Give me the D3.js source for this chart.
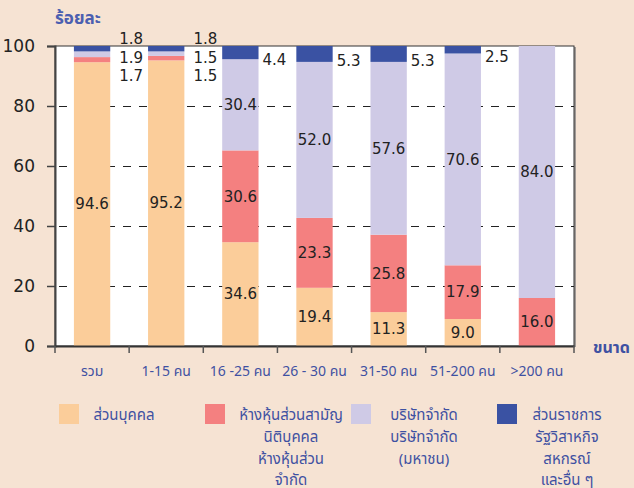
<!DOCTYPE html>
<html>
<head>
<meta charset="utf-8">
<script src="https://cdn.jsdelivr.net/npm/d3@7"></script>
<style>
body { margin:0; background:#f6e3d3; }
svg { display:block; }
</style>
</head>
<body>
<div id="chart"></div>
<script>
// categories (size of business) and the four shares, percent
var categories = ['รวม', '1-15 คน', '16 -25 คน', '26 - 30 คน', '31-50 คน', '51-200 คน', '>200 คน'];
var personal    = [94.6, 95.2, 34.6, 19.4, 11.3,  9.0,  0.0];
var partnership = [ 1.7,  1.5, 30.6, 23.3, 25.8, 17.9, 16.0];
var company     = [ 1.9,  1.5, 30.4, 52.0, 57.6, 70.6, 84.0];
var government  = [ 1.8,  1.8,  4.4,  5.3,  5.3,  2.5,  0.0];
var yTicks = [0, 20, 40, 60, 80, 100];

var legendLabels = [
	['ส่วนบุคคล'],
	['ห้างหุ้นส่วนสามัญ', 'นิติบุคคล', 'ห้างหุ้นส่วน', 'จำกัด'],
	['บริษัทจำกัด', 'บริษัทจำกัด', '(มหาชน)'],
	['ส่วนราชการ', 'รัฐวิสาหกิจ', 'สหกรณ์', 'และอื่น ๆ']
];
var colors = ['#fbcd9a', '#f48080', '#cfcae6', '#3a52a3'];

var W = 634, H = 488;
var pLeft = 55, pRight = 574, pTop = 46, pBottom = 346;
var numFont = '"DejaVu Sans", Verdana, sans-serif';
var thaiFont = 'Tahoma, "Noto Sans Thai", "Noto Sans", sans-serif';
var blue = '#3f51a2';

var svg = d3.select('#chart').append('svg')
	.attr('width', W).attr('height', H);

svg.append('rect').attr('width', W).attr('height', H).attr('fill', '#f6e3d3');

var x = d3.scaleBand().domain(categories).range([pLeft, pRight])
	.paddingInner(0.51).paddingOuter(0.255);
var xCell = d3.scaleBand().domain(categories).range([pLeft, pRight]);
var y = d3.scaleLinear().domain([0, 100]).range([pBottom, pTop]);

// plot background + frame shadow
svg.append('rect').attr('x', pLeft + 2).attr('y', pTop + 1)
	.attr('width', pRight - pLeft).attr('height', pBottom - pTop)
	.attr('fill', '#a09a96');
svg.append('rect').attr('x', pLeft).attr('y', pTop)
	.attr('width', pRight - pLeft).attr('height', pBottom - pTop)
	.attr('fill', '#fff').attr('stroke', '#333').attr('stroke-width', 1);

// dashed grid
svg.append('g').selectAll('line')
	.data(yTicks.filter(function(d) { return d > 0 && d < 100; }))
	.enter().append('line')
		.attr('x1', pLeft + 4).attr('x2', pRight)
		.attr('y1', function(d) { return Math.round(y(d)) + 0.5; })
		.attr('y2', function(d) { return Math.round(y(d)) + 0.5; })
		.attr('stroke', '#222').attr('stroke-dasharray', '8,8');

// stacked bars
var table = categories.map(function(c, i) {
	return {cat: c, p: personal[i], h: partnership[i], c: company[i], g: government[i]};
});
var keys = ['p', 'h', 'c', 'g'];
var stacked = d3.stack().keys(keys)(table);

var layers = svg.append('g').selectAll('g')
	.data(stacked)
	.enter().append('g')
		.attr('fill', function(d, i) { return colors[i]; });

layers.selectAll('rect')
	.data(function(d) { return d; })
	.enter().append('rect')
		.attr('x', function(d) { return x(d.data.cat); })
		.attr('width', x.bandwidth())
		.attr('y', function(d) { return y(d[1]); })
		.attr('height', function(d) { return y(d[0]) - y(d[1]); });

// value labels
var labels = svg.append('g')
	.attr('font-family', numFont).attr('font-size', 15).attr('fill', '#222');

stacked.forEach(function(layer, k) {
	layer.forEach(function(d, i) {
		var v = d[1] - d[0];
		if(v <= 0) return;
		var xr = x(d.data.cat) + x.bandwidth();
		if(v >= 8) {
			labels.append('text')
				.attr('x', x(d.data.cat) + x.bandwidth()/2)
				.attr('y', (y(d[0]) + y(d[1]))/2)
				.attr('dy', '0.35em')
				.attr('text-anchor', 'middle')
				.text(d3.format('.1f')(v));
		} else if(i < 2) {
			// tiny slices of first two bars: stacked beside the bar
			labels.append('text')
				.attr('x', xr + 9)
				.attr('y', pTop - 7 + (3 - k)*18.5)
				.attr('dy', '0.35em')
				.text(d3.format('.1f')(v));
		} else {
			labels.append('text')
				.attr('x', xr + 4)
				.attr('y', (y(d[0]) + y(d[1]))/2 + 7)
				.attr('dy', '0.35em')
				.text(d3.format('.1f')(v));
		}
	});
});

// y axis
var yAxis = svg.append('g')
	.attr('transform', 'translate(' + pLeft + ',0)')
	.call(d3.axisLeft(y).tickValues(yTicks).tickSize(8).tickPadding(12));
yAxis.select('.domain').attr('stroke', '#444').attr('stroke-width', 2);
yAxis.selectAll('.tick line').attr('stroke', '#444').attr('stroke-width', 1.5);
yAxis.selectAll('.tick text').attr('font-family', numFont).attr('font-size', 17).attr('fill', '#222');

// x axis
var xAxis = svg.append('g')
	.attr('transform', 'translate(0,' + pBottom + ')')
	.call(d3.axisBottom(x).tickSize(0).tickPadding(20));
xAxis.select('.domain').attr('stroke', '#333').attr('stroke-width', 2);
xAxis.selectAll('.tick text')
	.attr('font-family', thaiFont).attr('font-size', 14).attr('fill', blue)
	.attr('x', function(d) { return xCell(d) + xCell.bandwidth()/2 - x(d) - x.bandwidth()/2; });

svg.append('g').selectAll('line')
	.data(categories.concat(['end']))
	.enter().append('line')
		.attr('x1', function(d, i) { return pLeft + i*xCell.step(); })
		.attr('x2', function(d, i) { return pLeft + i*xCell.step(); })
		.attr('y1', pBottom).attr('y2', pBottom + 7)
		.attr('stroke', '#555').attr('stroke-width', 1.5);

// axis titles
svg.append('text').attr('x', pLeft).attr('y', 24)
	.attr('font-family', thaiFont).attr('font-size', 17).attr('font-weight', 'bold')
	.attr('fill', '#4c5fb0').text('ร้อยละ');
svg.append('text').attr('x', 593).attr('y', 353)
	.attr('font-family', thaiFont).attr('font-size', 16).attr('font-weight', 'bold')
	.attr('fill', blue).text('ขนาด');

// legend
var lgX = [59, 205, 351, 497];
var lgText = [124, 291, 424, 567];
var legend = svg.append('g');
legendLabels.forEach(function(lines, i) {
	legend.append('rect')
		.attr('x', lgX[i]).attr('y', 404).attr('width', 20).attr('height', 20)
		.attr('fill', colors[i]);
	legend.append('g').selectAll('text')
		.data(lines)
		.enter().append('text')
			.attr('x', lgText[i])
			.attr('y', function(d, j) { return 415 + j*21.7; })
			.attr('dy', '0.35em')
			.attr('text-anchor', 'middle')
			.attr('font-family', thaiFont).attr('font-size', 15)
			.attr('fill', blue)
			.text(function(d) { return d; });
});
</script>
</body>
</html>
